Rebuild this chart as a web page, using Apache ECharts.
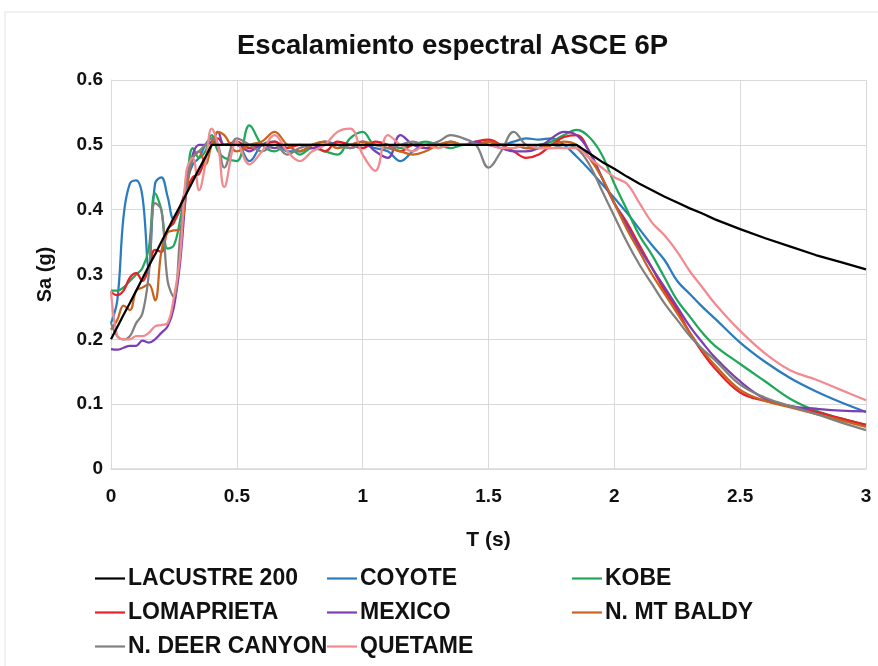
<!DOCTYPE html>
<html>
<head>
<meta charset="utf-8">
<script src="https://cdn.jsdelivr.net/npm/echarts@6/dist/echarts.min.js"></script>
<style>
  html, body { margin: 0; padding: 0; background: #fff; }
  #chart { width: 878px; height: 666px; }
</style>
</head>
<body>
<div id="chart"></div>
<script>
// periodo (s)
var periods = [0, 0.025, 0.05, 0.075, 0.1, 0.125, 0.15, 0.175, 0.2, 0.225, 0.25, 0.275, 0.3, 0.325, 0.35, 0.375, 0.4, 0.425, 0.45,
  0.5, 0.55, 0.6, 0.65, 0.7, 0.75, 0.8, 0.85, 0.9, 0.95, 1.0, 1.05, 1.1, 1.15, 1.2, 1.25, 1.3, 1.35, 1.4, 1.45, 1.5, 1.55,
  1.6, 1.65, 1.7, 1.75, 1.8, 1.85, 1.9, 1.95, 2.0, 2.05, 2.1, 2.15, 2.2, 2.25, 2.3, 2.35, 2.4,
  2.5, 2.6, 2.7, 2.8, 2.9, 3.0];

var lacustre200 = [0.2, 0.219, 0.238, 0.256, 0.275, 0.294, 0.313, 0.331, 0.35, 0.369, 0.388, 0.406, 0.425, 0.444, 0.463, 0.481, 0.5, 0.5, 0.5,
  0.5, 0.5, 0.5, 0.5, 0.5, 0.5, 0.5, 0.5, 0.5, 0.5, 0.5, 0.5, 0.5, 0.5, 0.5, 0.5, 0.5, 0.5, 0.5, 0.5, 0.5, 0.5,
  0.5, 0.5, 0.5, 0.5, 0.5, 0.5, 0.487, 0.474, 0.463, 0.451, 0.44, 0.43, 0.42, 0.411, 0.402, 0.394, 0.385,
  0.37, 0.356, 0.343, 0.33, 0.319, 0.308];

var coyote = [0.225, 0.26, 0.39, 0.44, 0.445, 0.42, 0.31, 0.44, 0.45, 0.42, 0.385, 0.40, 0.44, 0.47, 0.48, 0.5, 0.51, 0.5, 0.5,
  0.5, 0.475, 0.5, 0.505, 0.49, 0.49, 0.5, 0.505, 0.5, 0.495, 0.5, 0.495, 0.49, 0.475, 0.49, 0.5, 0.5, 0.505, 0.5, 0.5, 0.505, 0.5,
  0.505, 0.51, 0.508, 0.51, 0.5, 0.482, 0.462, 0.44, 0.418, 0.395, 0.37, 0.345, 0.322, 0.29, 0.27, 0.25, 0.232,
  0.195, 0.165, 0.14, 0.12, 0.103, 0.088];

var kobe = [0.275, 0.275, 0.28, 0.29, 0.30, 0.31, 0.34, 0.425, 0.40, 0.34, 0.345, 0.385, 0.44, 0.495, 0.48, 0.49, 0.515, 0.49, 0.48,
  0.475, 0.53, 0.5, 0.49, 0.5, 0.485, 0.495, 0.49, 0.485, 0.51, 0.52, 0.5, 0.5, 0.495, 0.5, 0.505, 0.5, 0.495, 0.5, 0.5, 0.505, 0.5,
  0.5, 0.495, 0.5, 0.505, 0.515, 0.523, 0.512, 0.485, 0.44, 0.40, 0.36, 0.33, 0.295, 0.26, 0.235, 0.21, 0.19,
  0.162, 0.135, 0.108, 0.09, 0.078, 0.068];

var lomaprieta = [0.273, 0.268, 0.275, 0.295, 0.302, 0.29, 0.31, 0.338, 0.335, 0.37, 0.38, 0.405, 0.43, 0.45, 0.455, 0.48, 0.5, 0.51, 0.5,
  0.505, 0.495, 0.5, 0.505, 0.495, 0.5, 0.5, 0.49, 0.505, 0.5, 0.495, 0.505, 0.5, 0.49, 0.5, 0.495, 0.5, 0.5, 0.5, 0.505, 0.508, 0.5,
  0.49, 0.48, 0.485, 0.5, 0.512, 0.515, 0.49, 0.45, 0.41, 0.38, 0.345, 0.31, 0.275, 0.245, 0.21, 0.18, 0.155,
  0.118, 0.105, 0.097, 0.088, 0.078, 0.068];

var mexico = [0.185, 0.184, 0.187, 0.19, 0.19, 0.198, 0.195, 0.2, 0.21, 0.22, 0.25, 0.32, 0.43, 0.485, 0.5, 0.5, 0.505, 0.52, 0.5,
  0.5, 0.49, 0.5, 0.495, 0.5, 0.5, 0.495, 0.5, 0.5, 0.5, 0.505, 0.49, 0.48, 0.515, 0.5, 0.495, 0.5, 0.5, 0.5, 0.505, 0.5, 0.495,
  0.49, 0.49, 0.495, 0.51, 0.52, 0.515, 0.49, 0.45, 0.41, 0.375, 0.34, 0.31, 0.28, 0.25, 0.22, 0.195, 0.172,
  0.135, 0.108, 0.097, 0.093, 0.09, 0.089];

var mtBaldy = [0.215, 0.23, 0.252, 0.245, 0.275, 0.28, 0.285, 0.26, 0.335, 0.365, 0.368, 0.37, 0.43, 0.48, 0.49, 0.47, 0.5, 0.52, 0.515,
  0.49, 0.5, 0.505, 0.52, 0.5, 0.49, 0.5, 0.505, 0.495, 0.5, 0.505, 0.5, 0.495, 0.49, 0.485, 0.49, 0.5, 0.505, 0.5, 0.5, 0.505, 0.5,
  0.5, 0.495, 0.495, 0.5, 0.505, 0.5, 0.48, 0.45, 0.41, 0.37, 0.335, 0.3, 0.27, 0.24, 0.21, 0.183, 0.16,
  0.122, 0.105, 0.095, 0.085, 0.075, 0.065];

var deerCanyon = [0.225, 0.205, 0.2, 0.205, 0.225, 0.24, 0.3, 0.41, 0.4, 0.29, 0.265, 0.36, 0.44, 0.48, 0.49, 0.5, 0.51, 0.5, 0.465,
  0.51, 0.5, 0.49, 0.5, 0.485, 0.495, 0.5, 0.5, 0.5, 0.495, 0.5, 0.5, 0.495, 0.5, 0.505, 0.5, 0.505, 0.515, 0.51, 0.5, 0.465, 0.49,
  0.52, 0.5, 0.495, 0.495, 0.5, 0.495, 0.47, 0.43, 0.39, 0.35, 0.315, 0.285, 0.255, 0.23, 0.205, 0.185, 0.168,
  0.13, 0.11, 0.097, 0.085, 0.072, 0.06];

var quetame = [0.275, 0.205, 0.2, 0.2, 0.205, 0.205, 0.21, 0.22, 0.222, 0.225, 0.265, 0.33, 0.46, 0.48, 0.43, 0.47, 0.525, 0.5, 0.435,
  0.505, 0.47, 0.49, 0.515, 0.49, 0.475, 0.49, 0.5, 0.52, 0.525, 0.485, 0.46, 0.515, 0.5, 0.49, 0.5, 0.495, 0.5, 0.5, 0.5, 0.5, 0.495,
  0.495, 0.5, 0.495, 0.495, 0.495, 0.495, 0.48, 0.465, 0.45, 0.44, 0.41, 0.38, 0.36, 0.335, 0.305, 0.28, 0.255,
  0.213, 0.178, 0.152, 0.138, 0.122, 0.106];

var seriesNames = ['LACUSTRE 200', 'COYOTE', 'KOBE', 'LOMAPRIETA', 'MEXICO', 'N. MT BALDY', 'N. DEER CANYON', 'QUETAME'];
var seriesValues = [lacustre200, coyote, kobe, lomaprieta, mexico, mtBaldy, deerCanyon, quetame];
var seriesColors = ['#000000', '#2b7bc0', '#20a85a', '#e8202a', '#7b3fb5', '#c8641e', '#808080', '#f28a8f'];

var xTicks = { min: 0, max: 3, interval: 0.5 };
var yTicks = { min: 0, max: 0.6, interval: 0.1 };

var fontFam = "'Liberation Sans', Arial, sans-serif";
var gridColor = '#d9d9d9';

var chart = echarts.init(document.getElementById('chart'));

var series = seriesNames.map(function (name, k) {
  return {
    name: name,
    type: 'line',
    symbol: 'none',
    smooth: k === 0 ? false : 0.4,
    z: k === 0 ? 3 : 2,
    lineStyle: { width: 2.25, color: seriesColors[k] },
    itemStyle: { color: seriesColors[k] },
    data: periods.map(function (t, i) { return [t, seriesValues[k][i]]; })
  };
});

// leyenda en 3 columnas, una entrada por legend
var legendCols = [95, 327, 572];
var legendRows = [567, 601, 635];
var legends = seriesNames.map(function (name, k) {
  return {
    left: legendCols[k % 3],
    top: legendRows[Math.floor(k / 3)],
    padding: 0,
    itemWidth: 30,
    itemHeight: 24,
    itemGap: 0,
    icon: 'path://M0,0 L30,0 L30,2.2 L0,2.2 Z',
    textStyle: { fontFamily: fontFam, fontWeight: 'bold', fontSize: 23, color: '#111', padding: [0, 0, 0, -2] },
    data: [name]
  };
});

var option = {
  backgroundColor: '#fff',
  animation: false,
  title: {
    text: 'Escalamiento espectral ASCE 6P',
    left: 232,
    top: 27,
    textStyle: { fontFamily: fontFam, fontWeight: 'bold', fontSize: 27.5, color: '#111' }
  },
  graphic: [{
    type: 'rect',
    shape: { x: 5, y: 12, width: 900, height: 700 },
    style: { fill: 'none', stroke: '#e3e3e3', lineWidth: 1 },
    silent: true
  }],
  legend: legends,
  grid: { left: 111, right: 12, top: 80, bottom: 197 },
  xAxis: {
    type: 'value',
    min: xTicks.min, max: xTicks.max, interval: xTicks.interval,
    name: 'T (s)',
    nameLocation: 'middle',
    nameGap: 61,
    nameTextStyle: { fontFamily: fontFam, fontWeight: 'bold', fontSize: 21, color: '#111' },
    axisLine: { lineStyle: { color: gridColor, width: 1.5 } },
    axisTick: { show: false },
    splitLine: { show: true, lineStyle: { color: gridColor, width: 1 } },
    axisLabel: { fontFamily: fontFam, fontWeight: 'bold', fontSize: 19, color: '#111', margin: 18 }
  },
  yAxis: {
    type: 'value',
    min: yTicks.min, max: yTicks.max, interval: yTicks.interval,
    name: 'Sa (g)',
    nameLocation: 'middle',
    nameRotate: 90,
    nameGap: 56,
    nameTextStyle: { fontFamily: fontFam, fontWeight: 'bold', fontSize: 20, color: '#111' },
    axisLine: { show: true, lineStyle: { color: gridColor, width: 1 } },
    axisTick: { show: false },
    splitLine: { show: true, lineStyle: { color: gridColor, width: 1 } },
    axisLabel: { fontFamily: fontFam, fontWeight: 'bold', fontSize: 19, color: '#111', margin: 8 }
  },
  series: series
};

chart.setOption(option);
</script>
</body>
</html>
